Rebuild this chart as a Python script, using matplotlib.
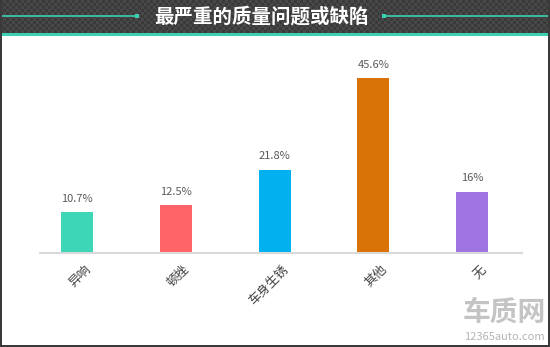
import numpy as np
import matplotlib
matplotlib.use("Agg")
import matplotlib.pyplot as plt
from matplotlib.patches import Rectangle
from matplotlib.lines import Line2D
import matplotlib.transforms as mtrans

plt.rcParams['font.family'] = ['Noto Sans CJK SC', 'DejaVu Sans']

# data
categories = ["异响", "顿挫", "车身生锈", "其他", "无"]
values = [10.7, 12.5, 21.8, 45.6, 16]
value_labels = ["10.7%", "12.5%", "21.8%", "45.6%", "16%"]
colors = ["#3dd6b7", "#ff6468", "#00b0ef", "#d97207", "#9d74e2"]
title = "最严重的质量问题或缺陷"

W, H = 550, 347
fig = plt.figure(figsize=(W / 100, H / 100), dpi=100)
fig.patch.set_facecolor("white")

# header: checker background
ys, xs = np.mgrid[0:34, 0:W]
chk = ((xs // 3 + ys // 3) % 2).astype(float)
img = np.zeros((34, W, 3))
img[:] = np.array([0x3a, 0x3a, 0x3a]) / 255
img[chk == 1] = np.array([0x48, 0x48, 0x48]) / 255
fig.figimage(img, xo=0, yo=H - 34, origin="upper", zorder=0)

def px(x, y):
    return x / W, 1 - y / H

# teal band under header
fig.patches.append(Rectangle(px(0, 36), 1, 3 / H, transform=fig.transFigure,
                             facecolor="#3ccfb1", edgecolor="none", zorder=2))
# decorative lines
for x0, x1 in [(2, 137), (384, 548)]:
    fig.lines.append(Line2D([x0 / W, x1 / W], [1 - 16 / H] * 2, transform=fig.transFigure,
                            color="#3ccfb1", lw=1.2, zorder=2))
for xx in [137, 384]:
    fig.patches.append(Rectangle(px(xx - 2, 18), 4 / W, 4 / H, transform=fig.transFigure,
                                 facecolor="#3ccfb1", edgecolor="none", zorder=2))
fig.text(261 / W, 1 - 17 / H, title, color="white", fontsize=14, fontweight="bold",
         ha="center", va="center", zorder=3)

# borders
fig.patches.append(Rectangle((0, 0), 2 / W, 1, transform=fig.transFigure,
                             facecolor="#3a3a3a", edgecolor="none", zorder=2))
fig.patches.append(Rectangle((1 - 2 / W, 0), 2 / W, 1, transform=fig.transFigure,
                             facecolor="#3a3a3a", edgecolor="none", zorder=2))
fig.patches.append(Rectangle((0, 0), 1, 2 / H, transform=fig.transFigure,
                             facecolor="#3a3a3a", edgecolor="none", zorder=2))

# axes
scale = 3.83  # px per %
base = 253
ymax = 50
ax_left, ax_right = 40, 522
ax = fig.add_axes([ax_left / W, (H - base) / H, (ax_right - ax_left) / W, ymax * scale / H])
step = 98.75
x = np.arange(len(categories))
xmin = -(77 - ax_left) / step
xmax = xmin + (ax_right - ax_left) / step
ax.bar(x, values, width=32 / step, color=colors, zorder=2)
for xi, v, lab in zip(x, values, value_labels):
    ax.text(xi, v + 2.2, lab, ha="center", va="bottom", fontsize=8, color="#595959")
ax.set_xlim(xmin, xmax)
ax.set_ylim(0, ymax)
ax.set_yticks([])
ax.set_xticks(x)
ax.set_xticklabels(categories, rotation=45, ha="right", rotation_mode="anchor",
                   fontsize=9, color="#404040")
ax.tick_params(axis="x", length=0, pad=7)
shift = mtrans.ScaledTranslation(7 / 100, 0, fig.dpi_scale_trans)
for t in ax.get_xticklabels():
    t.set_transform(t.get_transform() + shift)
for s in ["top", "right", "left"]:
    ax.spines[s].set_visible(False)
ax.spines["bottom"].set_color("#d9d9d9")
ax.spines["bottom"].set_linewidth(1.5)
ax.set_facecolor("none")

# watermark
fig.text(504 / W, 1 - 313 / H, "车质网", color="#c4c4c4", fontsize=20, fontweight="bold",
         ha="center", va="center")
fig.text(504 / W, 1 - 337 / H, "12365auto.com", color="#b4b4b4", fontsize=8,
         ha="center", va="center")

fig.savefig("out.png", dpi=100)
